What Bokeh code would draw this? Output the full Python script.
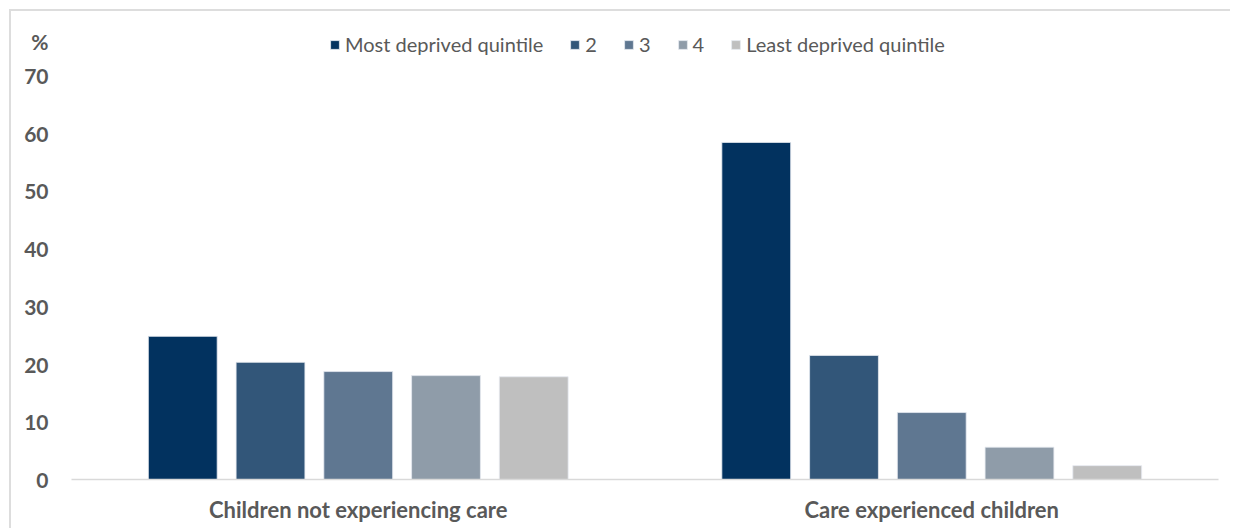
from bokeh.plotting import figure
from bokeh.models import ColumnDataSource, Legend, LegendItem, FactorRange
from bokeh.transform import dodge
from bokeh.embed import file_html
from bokeh.resources import INLINE

groups = ["Children not experiencing care", "Care experienced children"]
quintiles = ["Most deprived quintile", "2", "3", "4", "Least deprived quintile"]
most = [24.8, 58.4]
q2 = [20.3, 21.5]
q3 = [18.7, 11.6]
q4 = [18.0, 5.6]
least = [17.8, 2.4]
colors = ["#02325F", "#325679", "#5F7791", "#8F9CA9", "#BFBFBF"]
y_ticks = [0, 10, 20, 30, 40, 50, 60, 70]
unit_label = "%"

series = [most, q2, q3, q4, least]
data = {"group": groups}
for i, s in enumerate(series):
    data[f"s{i}"] = s
source = ColumnDataSource(data)

FONT = "Lato"
GREY = "#595959"

p = figure(x_range=FactorRange(*groups, range_padding=0), y_range=(0, 80.05),
           width=1221, height=519, output_backend="svg", toolbar_location=None,
           min_border_left=60, min_border_right=14, min_border_bottom=51, min_border_top=6)
p.x_range.range_padding = 0

step = 0.153
offsets = [-2 * step, -step, 0, step, 2 * step]
renderers = []
for i in range(5):
    r = p.vbar(x=dodge("group", offsets[i], range=p.x_range), top=f"s{i}", width=0.12,
               source=source, fill_color=colors[i], line_color="#E6EAF0", line_width=0.8)
    renderers.append(r)

legend = Legend(items=[LegendItem(label=quintiles[i], renderers=[renderers[i]]) for i in range(5)],
                orientation="horizontal", location=(258, 423))
legend.label_text_font = FONT
legend.label_text_font_size = "20px"
legend.label_text_color = GREY
legend.label_width = 1
legend.glyph_width = 11
legend.glyph_height = 11
legend.spacing = 26
legend.label_standoff = 5
legend.padding = 6
legend.margin = 0
legend.border_line_color = None
legend.background_fill_alpha = 0
p.add_layout(legend)

# the "%" unit sits as an extra labelled tick above the top value
pct_pos = 75.9
p.yaxis.ticker = y_ticks + [pct_pos]
p.yaxis.major_label_overrides = {pct_pos: unit_label}
p.yaxis.axis_line_color = None
p.yaxis.major_tick_line_color = None
p.yaxis.minor_tick_line_color = None
p.yaxis.major_tick_out = 0
p.yaxis.major_tick_in = 0
p.yaxis.major_label_standoff = 23
p.yaxis.major_label_text_font = FONT
p.yaxis.major_label_text_font_style = "bold"
p.yaxis.major_label_text_font_size = "21px"
p.yaxis.major_label_text_color = GREY

p.xaxis.axis_line_color = "#D9D9D9"
p.xaxis.axis_line_width = 1.5
p.xaxis.major_tick_line_color = None
p.xaxis.minor_tick_line_color = None
p.xaxis.major_tick_out = 0
p.xaxis.major_label_standoff = 16
p.xaxis.major_label_text_font = FONT
p.xaxis.major_label_text_font_style = "bold"
p.xaxis.major_label_text_font_size = "22px"
p.xaxis.major_label_text_color = GREY

p.xgrid.grid_line_color = None
p.ygrid.grid_line_color = None
p.outline_line_color = None

p.styles = {"border-top": "2px solid #DDDDDD", "border-left": "2px solid #DDDDDD",
            "margin-left": "9px", "margin-top": "9px"}

open("out.html", "w").write(file_html(p, INLINE))
